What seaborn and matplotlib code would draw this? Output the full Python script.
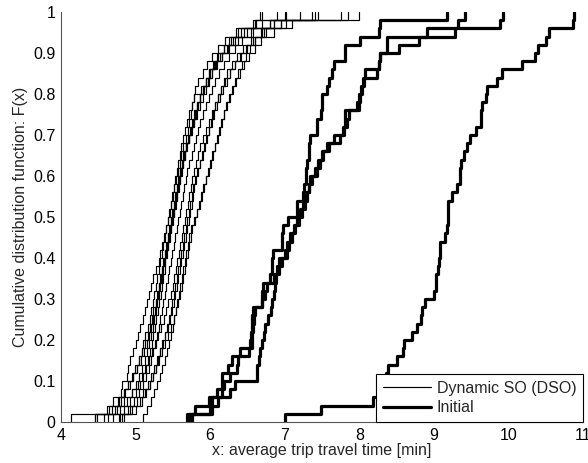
import numpy as np
import pandas as pd
import matplotlib
matplotlib.use("Agg")
import matplotlib.pyplot as plt
from matplotlib.lines import Line2D
import seaborn as sns

# ---------------- data ----------------
x_ticks = [4, 5, 6, 7, 8, 9, 10, 11]
y_ticks = [0, 0.1, 0.2, 0.3, 0.4, 0.5, 0.6, 0.7, 0.8, 0.9, 1.0]
y_tick_labels = ["0", "0.1", "0.2", "0.3", "0.4", "0.5", "0.6", "0.7", "0.8", "0.9", "1"]
legend_labels = ["Dynamic SO (DSO)", "Initial"]
x_label = "x: average trip travel time [min]"
y_label = "Cumulative distribution function: F(x)"

dso_1 = [4.13, 4.75, 4.78, 4.80, 4.82, 4.88, 4.90, 4.93, 4.96, 5.00, 5.03, 5.06, 5.10, 5.13, 5.15, 5.18, 5.21, 5.24, 5.28, 5.31,
         5.33, 5.36, 5.38, 5.41, 5.44, 5.46, 5.48, 5.50, 5.52, 5.54, 5.57, 5.59, 5.61, 5.64, 5.67, 5.70, 5.72, 5.74, 5.76, 5.79,
         5.88, 5.95, 5.99, 6.05, 6.09, 6.18, 6.25, 6.38, 6.60, 6.67]
dso_2 = [4.46, 4.62, 4.70, 4.85, 4.92, 4.97, 5.02, 5.05, 5.08, 5.10, 5.13, 5.16, 5.19, 5.21, 5.23, 5.25, 5.27, 5.29, 5.31, 5.33,
         5.35, 5.37, 5.39, 5.41, 5.43, 5.45, 5.47, 5.49, 5.51, 5.53, 5.55, 5.57, 5.59, 5.61, 5.63, 5.66, 5.69, 5.72, 5.75, 5.78,
         5.80, 5.84, 5.90, 5.96, 6.02, 6.10, 6.20, 6.35, 6.58, 6.70]
dso_3 = [4.57, 4.72, 4.80, 4.86, 4.90, 4.95, 4.99, 5.04, 5.09, 5.12, 5.16, 5.19, 5.22, 5.24, 5.27, 5.29, 5.31, 5.33, 5.35, 5.37,
         5.39, 5.41, 5.43, 5.45, 5.47, 5.49, 5.51, 5.53, 5.55, 5.57, 5.59, 5.62, 5.64, 5.67, 5.70, 5.73, 5.76, 5.79, 5.82, 5.86,
         5.90, 5.95, 6.00, 6.06, 6.13, 6.22, 6.30, 6.45, 6.70, 7.02]
dso_4 = [4.63, 4.79, 4.88, 4.95, 5.00, 5.04, 5.08, 5.12, 5.15, 5.18, 5.21, 5.23, 5.25, 5.27, 5.29, 5.31, 5.33, 5.35, 5.37, 5.39,
         5.41, 5.43, 5.45, 5.47, 5.49, 5.51, 5.53, 5.55, 5.57, 5.59, 5.61, 5.63, 5.66, 5.69, 5.72, 5.75, 5.78, 5.81, 5.84, 5.87,
         5.92, 5.97, 6.02, 6.08, 6.16, 6.25, 6.38, 6.55, 6.80, 7.36]
dso_5 = [4.79, 4.84, 4.93, 5.01, 5.06, 5.10, 5.13, 5.16, 5.19, 5.22, 5.24, 5.26, 5.28, 5.30, 5.32, 5.34, 5.35, 5.37, 5.39, 5.40,
         5.42, 5.44, 5.46, 5.48, 5.50, 5.52, 5.54, 5.56, 5.58, 5.60, 5.62, 5.64, 5.66, 5.68, 5.71, 5.74, 5.77, 5.80, 5.83, 5.86,
         5.90, 5.94, 5.99, 6.04, 6.10, 6.18, 6.28, 6.42, 6.62, 6.90]
dso_6 = [4.48, 4.65, 4.76, 4.84, 4.90, 4.96, 5.02, 5.07, 5.11, 5.15, 5.18, 5.21, 5.24, 5.26, 5.28, 5.30, 5.32, 5.34, 5.36, 5.38,
         5.40, 5.42, 5.44, 5.46, 5.48, 5.50, 5.52, 5.54, 5.56, 5.58, 5.60, 5.62, 5.65, 5.68, 5.71, 5.74, 5.78, 5.82, 5.86, 5.90,
         5.94, 5.98, 6.03, 6.09, 6.16, 6.24, 6.34, 6.50, 6.80, 7.45]
dso_7 = [4.82, 4.90, 4.98, 5.05, 5.10, 5.14, 5.18, 5.21, 5.24, 5.27, 5.29, 5.31, 5.33, 5.35, 5.37, 5.39, 5.41, 5.43, 5.45, 5.47,
         5.49, 5.51, 5.53, 5.55, 5.57, 5.59, 5.61, 5.63, 5.65, 5.67, 5.69, 5.72, 5.75, 5.78, 5.81, 5.84, 5.87, 5.90, 5.94, 5.98,
         6.02, 6.07, 6.12, 6.18, 6.25, 6.33, 6.43, 6.58, 6.85, 7.76]
dso_8 = [4.85, 5.00, 5.08, 5.14, 5.19, 5.23, 5.27, 5.30, 5.33, 5.36, 5.39, 5.42, 5.45, 5.47, 5.49, 5.51, 5.53, 5.55, 5.57, 5.59,
         5.61, 5.63, 5.65, 5.67, 5.69, 5.71, 5.73, 5.75, 5.77, 5.80, 5.83, 5.86, 5.89, 5.92, 5.95, 5.98, 6.01, 6.04, 6.07, 6.10,
         6.14, 6.18, 6.23, 6.29, 6.36, 6.44, 6.55, 6.70, 7.02, 7.85]
dso_9 = [5.10, 5.15, 5.21, 5.25, 5.29, 5.33, 5.36, 5.39, 5.42, 5.45, 5.48, 5.50, 5.52, 5.54, 5.56, 5.58, 5.60, 5.62, 5.64, 5.66,
         5.68, 5.70, 5.72, 5.74, 5.80, 5.83, 5.86, 5.89, 5.92, 5.95, 5.98, 6.01, 6.04, 6.07, 6.10, 6.13, 6.16, 6.19, 6.22, 6.26,
         6.30, 6.35, 6.40, 6.46, 6.52, 6.60, 6.68, 6.85, 7.10, 7.99]
dso_10 = [4.70, 4.92, 5.02, 5.10, 5.16, 5.21, 5.25, 5.29, 5.33, 5.37, 5.40, 5.43, 5.46, 5.49, 5.51, 5.53, 5.55, 5.57, 5.59, 5.61,
          5.63, 5.65, 5.67, 5.69, 5.71, 5.73, 5.75, 5.77, 5.79, 5.81, 5.84, 5.87, 5.90, 5.93, 5.96, 5.99, 6.02, 6.05, 6.09, 6.13,
          6.17, 6.22, 6.27, 6.33, 6.40, 6.48, 6.58, 6.72, 6.95, 7.40]
dso_11 = [4.45, 4.68, 4.85, 4.95, 5.03, 5.09, 5.14, 5.18, 5.22, 5.26, 5.30, 5.34, 5.38, 5.41, 5.44, 5.47, 5.50, 5.52, 5.54, 5.56,
          5.58, 5.60, 5.62, 5.64, 5.66, 5.68, 5.70, 5.72, 5.74, 5.76, 5.78, 5.81, 5.84, 5.87, 5.90, 5.94, 5.98, 6.02, 6.06, 6.10,
          6.15, 6.20, 6.26, 6.33, 6.41, 6.50, 6.60, 6.75, 6.95, 7.20]
dso_12 = [4.78, 4.95, 5.06, 5.13, 5.19, 5.24, 5.28, 5.32, 5.36, 5.40, 5.44, 5.48, 5.51, 5.54, 5.57, 5.60, 5.62, 5.64, 5.66, 5.68,
          5.70, 5.72, 5.74, 5.76, 5.79, 5.82, 5.85, 5.88, 5.91, 5.94, 5.97, 6.00, 6.03, 6.06, 6.09, 6.12, 6.15, 6.18, 6.21, 6.25,
          6.29, 6.33, 6.38, 6.43, 6.48, 6.54, 6.60, 6.68, 6.85, 7.00]

init_a = [5.695, 5.80, 5.98, 6.09, 6.155, 6.16, 6.245, 6.29, 6.515, 6.56, 6.565, 6.58, 6.585, 6.60, 6.69, 6.695, 6.715, 6.805, 6.83, 6.835,
          6.84, 6.96, 6.965, 6.98, 7.04, 7.16, 7.165, 7.25, 7.255, 7.28, 7.285, 7.30, 7.32, 7.33, 7.34, 7.43, 7.435, 7.49, 7.50, 7.505,
          7.57, 7.60, 7.63, 7.655, 7.81, 7.815, 8.01, 8.26, 8.28, 9.18]
init_b = [5.76, 6.00, 6.02, 6.16, 6.18, 6.27, 6.36, 6.38, 6.40, 6.54, 6.545, 6.56, 6.565, 6.58, 6.69, 6.74, 6.76, 6.85, 6.90, 6.93,
          7.01, 7.03, 7.07, 7.12, 7.16, 7.21, 7.25, 7.28, 7.32, 7.34, 7.41, 7.45, 7.50, 7.57, 7.655, 7.80, 7.81, 7.815, 7.99, 8.01,
          8.04, 8.06, 8.07, 8.26, 8.28, 8.37, 8.375, 8.91, 9.33, 9.42]
init_c = [5.72, 6.02, 6.11, 6.27, 6.34, 6.63, 6.635, 6.65, 6.67, 6.69, 6.72, 6.74, 6.78, 6.82, 6.83, 6.85, 6.87, 6.88, 6.92, 6.96,
          7.03, 7.06, 7.10, 7.14, 7.19, 7.23, 7.27, 7.30, 7.33, 7.37, 7.43, 7.47, 7.52, 7.59, 7.745, 7.78, 7.83, 7.86, 7.97, 8.00,
          8.02, 8.05, 8.24, 8.26, 8.28, 8.53, 8.80, 9.29, 9.89, 9.93]
init_d = [7.01, 7.49, 8.18, 8.26, 8.32, 8.36, 8.39, 8.51, 8.59, 8.595, 8.71, 8.78, 8.83, 8.835, 8.886, 9.00, 9.03, 9.035, 9.06, 9.07,
          9.08, 9.085, 9.15, 9.18, 9.183, 9.186, 9.19, 9.24, 9.31, 9.35, 9.355, 9.36, 9.41, 9.44, 9.48, 9.56, 9.63, 9.635, 9.64, 9.70,
          9.71, 9.85, 9.92, 10.18, 10.36, 10.39, 10.50, 10.54, 10.86, 10.88]

dso_runs = {"DSO 1": dso_1, "DSO 2": dso_2, "DSO 3": dso_3, "DSO 4": dso_4, "DSO 5": dso_5, "DSO 6": dso_6,
            "DSO 7": dso_7, "DSO 8": dso_8, "DSO 9": dso_9, "DSO 10": dso_10, "DSO 11": dso_11, "DSO 12": dso_12}
initial_runs = {"Initial 1": init_a, "Initial 2": init_b, "Initial 3": init_c, "Initial 4": init_d}

# ---------------- long-form table ----------------
rows = []
for name, vals in dso_runs.items():
    rows += [("DSO", name, v) for v in vals]
for name, vals in initial_runs.items():
    rows += [("Initial", name, v) for v in vals]
df = pd.DataFrame(rows, columns=["scenario", "run", "time"])

# ---------------- plotting ----------------
sns.set_theme(style="white")
plt.rcParams["font.family"] = ["Liberation Sans", "DejaVu Sans"]
fs = 11.5
plt.rcParams["font.size"] = fs

fig = plt.figure(figsize=(5.88, 4.63), dpi=100)
ax = fig.add_axes([61 / 588, 1 - 422 / 463, (583 - 61) / 588, (422 - 12) / 463])

thin_lw, thick_lw = 0.85, 2.3
sns.ecdfplot(data=df[df.scenario == "DSO"], x="time", hue="run",
             palette=["black"] * len(dso_runs), linewidth=thin_lw, legend=False, ax=ax)
sns.ecdfplot(data=df[df.scenario == "Initial"], x="time", hue="run",
             palette=["black"] * len(initial_runs), linewidth=thick_lw, legend=False, ax=ax)

# start each step curve at its first observation (no zero-level tail from -inf)
for ln in ax.lines:
    xd, yd = ln.get_data()
    xd = np.asarray(xd, dtype=float).copy()
    if np.isinf(xd[0]):
        xd[0] = xd[1]
        ln.set_data(xd, yd)

ax.set_xlim(4, 11)
ax.set_ylim(0, 1)
ax.set_xticks(x_ticks)
ax.set_xticklabels([str(t) for t in x_ticks])
ax.set_yticks(y_ticks)
ax.set_yticklabels(y_tick_labels)
ax.set_xlabel(x_label, fontsize=fs, labelpad=0)
ax.set_ylabel(y_label, fontsize=fs, labelpad=4)
ax.tick_params(direction="in", length=4, width=0.6, labelsize=fs, colors="black", pad=4)

for side in ["top", "right"]:
    ax.spines[side].set_visible(False)
for side in ["left", "bottom"]:
    ax.spines[side].set_color("#555555")
    ax.spines[side].set_linewidth(0.8)

handles = [Line2D([], [], color="black", lw=thin_lw), Line2D([], [], color="black", lw=thick_lw)]
leg = ax.legend(handles, legend_labels, loc="lower right", borderaxespad=0, frameon=True,
                fancybox=False, framealpha=1, edgecolor="black", fontsize=fs,
                handlelength=3.0, handletextpad=0.35, labelspacing=0.3, borderpad=0.42)
leg.get_frame().set_linewidth(0.8)
leg.set_zorder(10)

fig.savefig("out.png", dpi=100)
